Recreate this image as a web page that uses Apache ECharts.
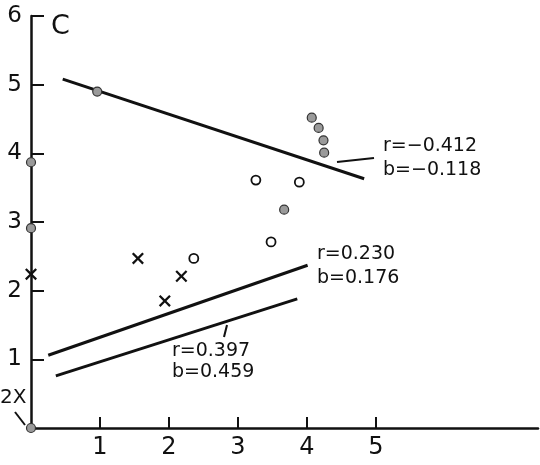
<!DOCTYPE html>
<html>
<head>
<meta charset="utf-8">
<script src="https://cdn.jsdelivr.net/npm/echarts@6/dist/echarts.min.js"></script>
<style>
html,body{margin:0;padding:0;background:#fff;}
#chart{width:540px;height:465px;}
</style>
</head>
<body>
<div id="chart"></div>
<script>
// ---- data ----
var xTickLabels = [1, 2, 3, 4, 5];
var yTickLabels = [1, 2, 3, 4, 5, 6];
var filledPoints = [[0.96, 4.9], [4.07, 4.52], [4.17, 4.37], [4.24, 4.19], [4.25, 4.01], [3.67, 3.18], [0, 3.87], [0, 2.91], [0, 0]];
var openPoints = [[3.26, 3.61], [3.89, 3.58], [3.48, 2.71], [2.36, 2.47]];
var crossPoints = [[1.55, 2.47], [2.18, 2.21], [1.94, 1.85], [0, 2.24]];
var lineNegative = [[0.46, 5.08], [4.83, 3.63]];
var lineUpper = [[0.25, 1.06], [4.01, 2.37]];
var lineLower = [[0.36, 0.76], [3.86, 1.88]];
var panelLabel = 'C';
var statsNegative = ['r=\u22120.412', 'b=\u22120.118'];
var statsUpper = ['r=0.230', 'b=0.176'];
var statsLower = ['r=0.397', 'b=0.459'];
var originNote = '2X';

var FONT = 'DejaVu Sans';
var chart = echarts.init(document.getElementById('chart'));
var crossPath = 'path://M1.6,0 L6,4.4 L10.4,0 L12,1.6 L7.6,6 L12,10.4 L10.4,12 L6,7.6 L1.6,12 L0,10.4 L4.4,6 L0,1.6 Z';

function txt(t, left, cy, size) {
  return {type: 'text', left: left, top: cy - size * 0.6,
    style: {text: t, fontSize: size, fontFamily: FONT, fill: '#111'}};
}
function seg(x1, y1, x2, y2) {
  return {type: 'line', shape: {x1: x1, y1: y1, x2: x2, y2: y2},
    style: {stroke: '#111', lineWidth: 2}};
}

var option = {
  animation: false,
  backgroundColor: '#fff',
  grid: {left: 31, right: 2, top: 16, bottom: 37},
  xAxis: {
    type: 'value', min: 0, max: 7.35, interval: 1,
    splitLine: {show: false},
    axisLine: {show: true, lineStyle: {color: '#111', width: 2.5}},
    axisTick: {show: true, inside: true, length: 11, lineStyle: {color: '#111', width: 2}, customValues: xTickLabels},
    axisLabel: {customValues: xTickLabels, fontSize: 24, fontFamily: FONT, color: '#111', margin: 8}
  },
  yAxis: {
    type: 'value', min: 0, max: 6, interval: 1,
    splitLine: {show: false},
    axisLine: {show: true, lineStyle: {color: '#111', width: 2.5}},
    axisTick: {show: true, inside: true, length: 13, lineStyle: {color: '#111', width: 2}, customValues: yTickLabels},
    axisLabel: {customValues: yTickLabels, fontSize: 23, fontFamily: FONT, color: '#111', margin: 9,
      padding: [4, 0, 0, 0]}
  },
  series: [
    {type: 'line', data: lineNegative, symbol: 'none', lineStyle: {color: '#111', width: 3}, z: 2},
    {type: 'line', data: lineUpper, symbol: 'none', lineStyle: {color: '#111', width: 3}, z: 2},
    {type: 'line', data: lineLower, symbol: 'none', lineStyle: {color: '#111', width: 3}, z: 2},
    {type: 'scatter', data: filledPoints, symbol: 'circle', symbolSize: 9,
      itemStyle: {color: '#9a9a9a', borderColor: '#333', borderWidth: 1.2, opacity: 1}, z: 5},
    {type: 'scatter', data: openPoints, symbol: 'circle', symbolSize: 9,
      itemStyle: {color: '#fff', borderColor: '#111', borderWidth: 1.8, opacity: 1}, z: 5},
    {type: 'scatter', data: crossPoints, symbol: crossPath, symbolSize: 12,
      itemStyle: {color: '#111', opacity: 1}, z: 5}
  ],
  graphic: [
    txt(panelLabel, 51, 30, 27),
    txt(statsNegative[0], 383, 148, 19),
    txt(statsNegative[1], 383, 172, 19),
    txt(statsUpper[0], 317, 256, 19),
    txt(statsUpper[1], 317, 280, 19),
    txt(statsLower[0], 172, 353, 19),
    txt(statsLower[1], 172, 374, 19),
    txt(originNote, 0, 400, 20),
    seg(337, 162, 374, 158),
    seg(227, 325, 224, 337),
    seg(15, 412, 25, 425)
  ]
};
chart.setOption(option);
</script>
</body>
</html>
